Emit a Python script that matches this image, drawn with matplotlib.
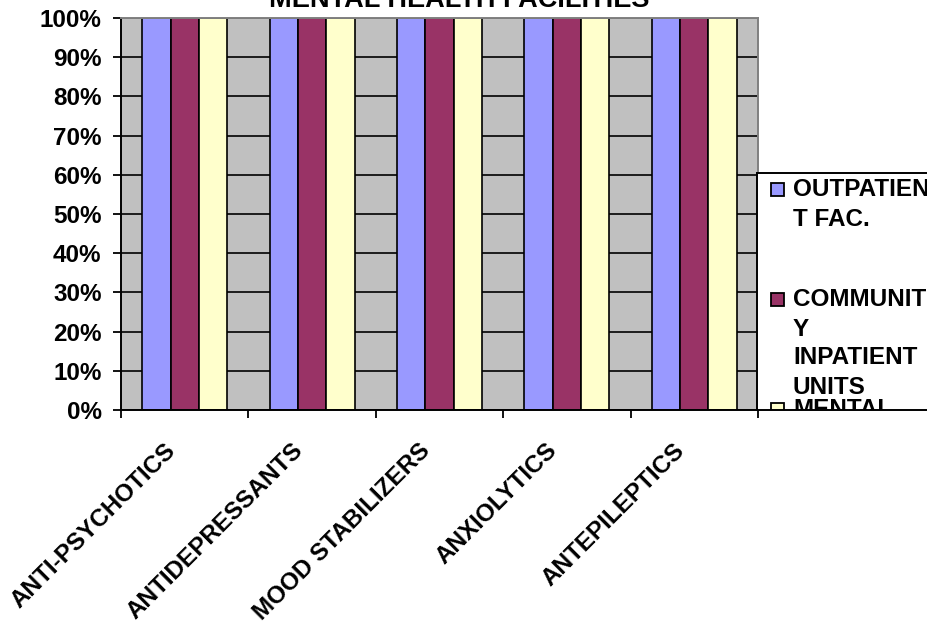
import numpy as np
import matplotlib
matplotlib.use('Agg')
import matplotlib.pyplot as plt
import matplotlib.transforms as mtransforms

### ===========================================================================
# data

categories = ['ANTI-PSYCHOTICS', 'ANTIDEPRESSANTS', 'MOOD STABILIZERS',
              'ANXIOLYTICS', 'ANTEPILEPTICS']
series_names = ['OUTPATIENT FAC.', 'COMMUNITY INPATIENT UNITS',
                'MENTAL HEALTH HOSPITALS']
# legend labels as wrapped by the original chart
legend_lines = [['OUTPATIEN', 'T FAC.'],
                ['COMMUNIT', 'Y', 'INPATIENT', 'UNITS'],
                ['MENTAL', 'HEALTH', 'HOSPITALS']]
outpatient = [1.0, 1.0, 1.0, 1.0, 1.0]
community = [1.0, 1.0, 1.0, 1.0, 1.0]
hospitals = [1.0, 1.0, 1.0, 1.0, 1.0]
yticks = np.arange(0, 1.01, 0.1)
ytick_labels = [f'{int(round(v * 100))}%' for v in yticks]
title = 'MENTAL HEALTH FACILITIES'

colors = ['#9999FF', '#993366', '#FFFFCC']
plot_bg = '#C0C0C0'

### ===========================================================================

FS = 17.5
params = {'font.family': ['Liberation Sans', 'DejaVu Sans'],
          'font.weight': 'bold',
          'font.size': FS}
plt.rcParams.update(params)

W, H = 927, 623
fig = plt.figure(figsize=(W / 100, H / 100), dpi=100)
fig.patch.set_facecolor('white')

# plot area in pixels: left 121, right 758, top 18, bottom 410
ax = fig.add_axes([121 / W, 1 - 410 / H, 637 / W, 392 / H])
ax.set_facecolor(plot_bg)

x = np.arange(len(categories))
bw = 1 / 4.5
values = [outpatient, community, hospitals]
for i, (vals, c) in enumerate(zip(values, colors)):
    ax.bar(x + (i - 1) * bw, vals, width=bw, color=c, edgecolor='black',
           linewidth=1.2, zorder=2)

ax.set_xlim(-0.5, len(categories) - 0.5)
ax.set_ylim(0, 1)

ax.set_yticks(yticks)
ax.set_yticklabels(ytick_labels, fontweight='bold')
ax.yaxis.grid(True, color='black', linewidth=1.2, zorder=0.5)
ax.set_axisbelow(True)
ax.tick_params(axis='y', direction='out', length=6, width=1.3, pad=8,
               labelsize=FS)

ax.set_xticks(np.arange(len(categories) + 1) - 0.5)
ax.set_xticklabels([])
ax.tick_params(axis='x', direction='out', length=6, width=1.3)

offset = mtransforms.ScaledTranslation(-13 / 100, -37 / 100, fig.dpi_scale_trans)
for xi, lab in zip(x, categories):
    ax.text(xi, 0, lab, transform=ax.get_xaxis_transform() + offset,
            rotation=45, rotation_mode='anchor', ha='right', va='center',
            fontsize=FS, fontweight='bold', clip_on=False)

for side in ['left', 'bottom']:
    ax.spines[side].set_color('black')
    ax.spines[side].set_linewidth(1.4)
for side in ['top', 'right']:
    ax.spines[side].set_color('#808080')
    ax.spines[side].set_linewidth(1.4)

fig.text(459 / W, 1 - 7 / H, title, ha='center', va='baseline',
         fontsize=19.5, fontweight='bold')

# legend box, clipped like the original
lg = fig.add_axes([757 / W, 1 - 410 / H, 170 / W, 237 / H])
lg.set_xlim(0, 170)
lg.set_ylim(237, 0)
lg.set_xticks([])
lg.set_yticks([])
lg.set_facecolor('white')
lg.spines['right'].set_visible(False)
for side in ['left', 'top', 'bottom']:
    lg.spines[side].set_linewidth(1.4)
    lg.spines[side].set_color('black')

for i, (lines, c) in enumerate(zip(legend_lines, colors)):
    y0 = 17 + 110 * i
    lg.add_patch(plt.Rectangle((14, y0 - 7), 13, 13, facecolor=c,
                               edgecolor='black', linewidth=1.3, clip_on=True))
    for j, line in enumerate(lines):
        lg.text(36, y0 + 29 * j, line, ha='left', va='center',
                fontsize=FS, fontweight='bold', clip_on=True)

fig.savefig('out.png', dpi=100)
plt.close(fig)
